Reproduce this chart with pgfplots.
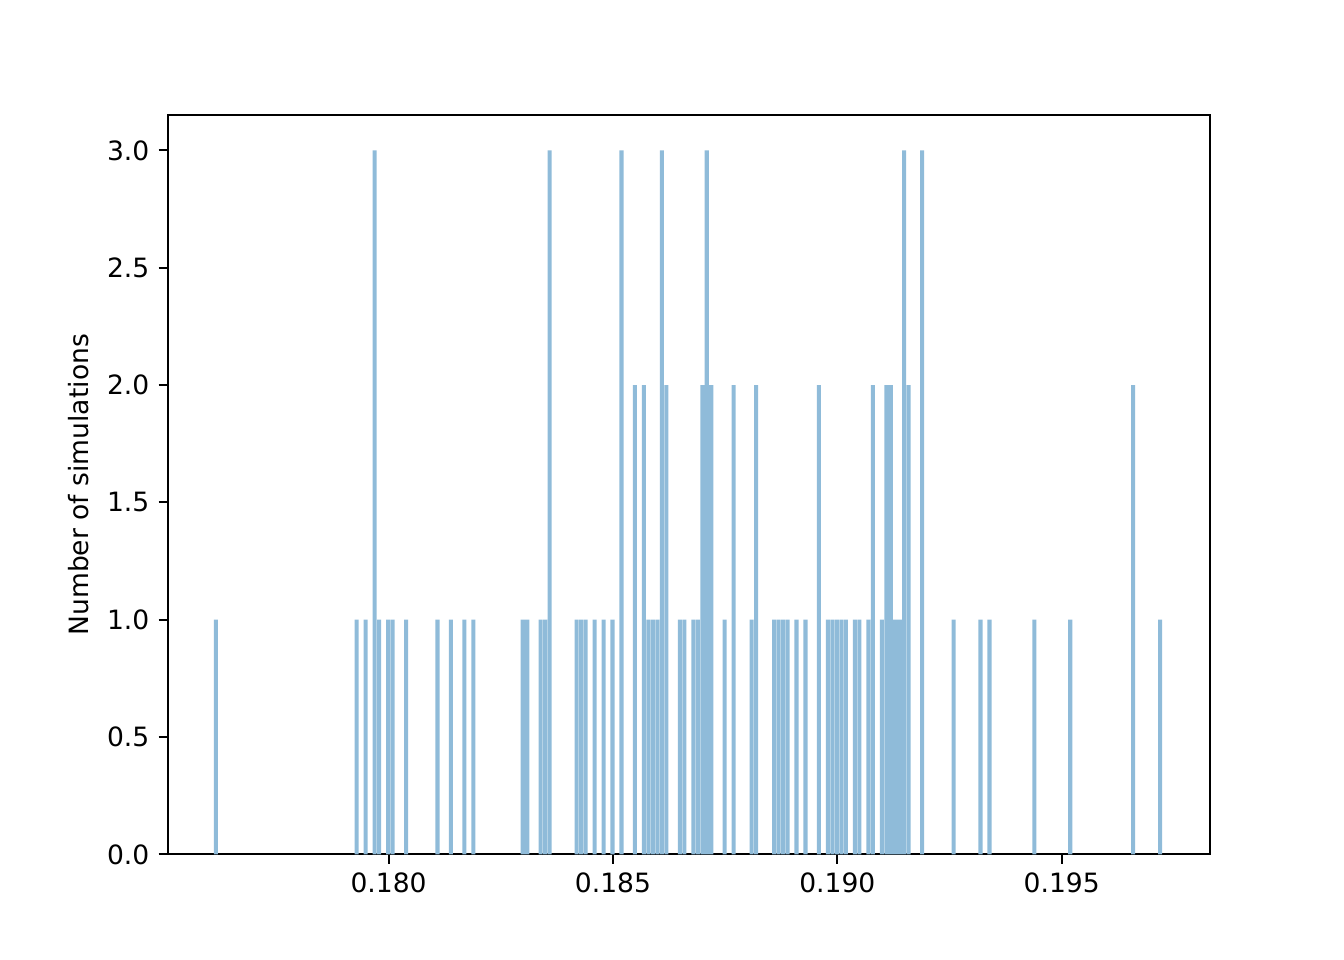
\documentclass[border=0pt]{standalone}
\usepackage{pgfplots}
\pgfplotsset{compat=1.18}
\usepackage{fontspec}
\setmainfont{DejaVu Sans}
\definecolor{barblue}{HTML}{8FBBD9}
\begin{document}
\begin{tikzpicture}
\useasboundingbox (0,0) rectangle (504bp,360bp);
\begin{axis}[
  at={(63bp,39.6bp)}, anchor=south west,
  scale only axis, width=390.6bp, height=277.2bp,
  xmin=0.175085, xmax=0.198295, ymin=0, ymax=3.15,
  xtick={0.180,0.185,0.190,0.195},
  ytick={0,0.5,1,1.5,2,2.5,3},
  xtick pos=bottom, ytick pos=left,
  tick align=outside, major tick length=3.5bp,
  every tick/.style={line width=0.8bp, black},
  axis line style={line width=0.8bp},
  /pgf/number format/assume math mode=true,
  xticklabel style={/pgf/number format/.cd, fixed, fixed zerofill, precision=3},
  yticklabel style={/pgf/number format/.cd, fixed, fixed zerofill, precision=1},
  scaled x ticks=false,
  ylabel={Number of simulations},
  ylabel style={yshift=0bp},
  ybar, bar width=0.00009, bar shift=0pt,
]
\addplot[fill=barblue, draw=none] coordinates {
(0.17615,1) (0.17929,1) (0.17949,1) (0.17969,3) (0.17979,1) (0.17999,1) (0.18009,1)
(0.18039,1) (0.18109,1) (0.18139,1) (0.18169,1) (0.18189,1) (0.18299,1) (0.18309,1)
(0.18339,1) (0.18349,1) (0.18359,3) (0.18419,1) (0.18429,1) (0.18439,1) (0.18459,1)
(0.18479,1) (0.18499,1) (0.18519,3) (0.18549,2) (0.18569,2) (0.18579,1) (0.18589,1)
(0.18599,1) (0.18609,3) (0.18619,2) (0.18649,1) (0.18659,1) (0.18679,1) (0.18689,1)
(0.18699,2) (0.18709,3) (0.18719,2) (0.18749,1) (0.18769,2) (0.18809,1) (0.18819,2)
(0.18859,1) (0.18869,1) (0.18879,1) (0.18889,1) (0.18909,1) (0.18929,1) (0.18959,2)
(0.18979,1) (0.18989,1) (0.18999,1) (0.19009,1) (0.19019,1) (0.19039,1) (0.19049,1)
(0.19069,1) (0.19079,2) (0.19099,1) (0.19109,2) (0.19119,2) (0.19129,1) (0.19139,1)
(0.19149,3) (0.19159,2) (0.19189,3) (0.19259,1) (0.19319,1) (0.19339,1) (0.19439,1)
(0.19519,1) (0.19659,2) (0.19719,1)
};
\end{axis}
\end{tikzpicture}
\end{document}
